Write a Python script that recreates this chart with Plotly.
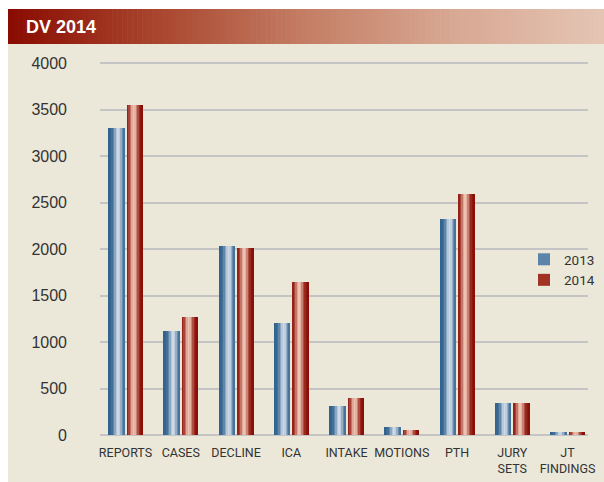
import math
import plotly.graph_objects as go

# ---- data ----
categories = ["REPORTS", "CASES", "DECLINE", "ICA", "INTAKE", "MOTIONS", "PTH", "JURY<br>SETS", "JT<br>FINDINGS"]
values_2013 = [3300, 1120, 2030, 1200, 310, 85, 2320, 345, 35]
values_2014 = [3550, 1270, 2010, 1650, 400, 55, 2590, 345, 35]
series_names = ["2013", "2014"]
y_ticks = [0, 500, 1000, 1500, 2000, 2500, 3000, 3500, 4000]
title_text = "DV 2014"

# ---- geometry (pixels) ----
W, H = 604, 482
PL, PR, PT, PB = 100, 588, 60, 435          # plot area in px
px_per_cat = 55.25
x0_range = -(125.5 - PL) / px_per_cat
x1_range = x0_range + (PR - PL) / px_per_cat
y_top = 4000 * (PB - PT) / (PB - 63)

def hexrgb(h):
    h = h.lstrip("#")
    return tuple(int(h[i:i + 2], 16) for i in (0, 2, 4))

def mix(a, b, t):
    a, b = hexrgb(a), hexrgb(b)
    return "rgb(%d,%d,%d)" % tuple(round(a[i] + (b[i] - a[i]) * t) for i in range(3))

def px_x(p):
    return (p - PL) / (PR - PL)

def px_y(p):
    return (PB - p) / (PB - PT)

fig = go.Figure()

bar_w = 16.5 / px_per_cat
gap = 1.0 / px_per_cat
n_stripes = 11
styles = [
    dict(vals=values_2013, dark="#30618D", light="#CDD9E6", peak=0.6, start=-gap - bar_w, legend="#5A84A9"),
    dict(vals=values_2014, dark="#890C03", light="#EDC2B1", peak=0.42, start=gap, legend="#A23324"),
]
for name, st in zip(series_names, styles):
    sw = bar_w / n_stripes
    for i in range(n_stripes):
        t = (i + 0.5) / n_stripes
        f = math.exp(-((t - st["peak"]) / 0.26) ** 2)
        fig.add_trace(go.Bar(
            x=categories, y=st["vals"], name=name,
            width=sw * 1.4 if i < n_stripes - 1 else sw,
            offset=st["start"] + i * sw,
            marker=dict(color=mix(st["dark"], st["light"], f), line=dict(width=0)),
            showlegend=False, hoverinfo="skip",
        ))
    fig.add_trace(go.Bar(x=[None], y=[None], name=name,
                         marker=dict(color=st["legend"], line=dict(width=0)),
                         showlegend=True))

shapes = []
# white strips outside the panel
shapes.append(dict(type="rect", xref="paper", yref="paper", x0=px_x(0), x1=px_x(W),
                   y0=px_y(0), y1=px_y(9), fillcolor="white", line=dict(width=0), layer="below"))
shapes.append(dict(type="rect", xref="paper", yref="paper", x0=px_x(0), x1=px_x(8),
                   y0=px_y(0), y1=px_y(H), fillcolor="white", line=dict(width=0), layer="below"))
# header gradient
anchors = [(0.0, "#8A0C02"), (0.25, "#A9462F"), (0.5, "#C47E65"), (0.75, "#D8A893"), (1.0, "#E4C4B3")]
def grad(t):
    for (a, ca), (b, cb) in zip(anchors[:-1], anchors[1:]):
        if t <= b:
            return mix(ca, cb, (t - a) / (b - a))
    return anchors[-1][1]
n_h = 120
hx0, hx1 = 8, W
for i in range(n_h):
    xa = hx0 + (hx1 - hx0) * i / n_h
    xb = hx0 + (hx1 - hx0) * (i + 1) / n_h + 0.6
    shapes.append(dict(type="rect", xref="paper", yref="paper", x0=px_x(xa), x1=px_x(xb),
                       y0=px_y(44), y1=px_y(9), fillcolor=grad(i / (n_h - 1)),
                       line=dict(width=0), layer="below"))

fig.update_layout(
    width=W, height=H,
    margin=dict(l=PL, r=W - PR, t=PT, b=H - PB, pad=0, autoexpand=False),
    paper_bgcolor="#EBE8DA", plot_bgcolor="rgba(0,0,0,0)",
    barmode="overlay", bargap=0,
    font=dict(family="Roboto", color="#333333"),
    shapes=shapes,
    annotations=[dict(text="<b>%s</b>" % title_text, xref="paper", yref="paper",
                      x=px_x(24), y=px_y(26.5), xanchor="left", yanchor="middle",
                      showarrow=False, font=dict(family="Liberation Sans", size=18, color="white"))],
    xaxis=dict(range=[x0_range, x1_range], showgrid=False, zeroline=False, showline=False,
               ticks="", tickangle=0, automargin=False,
               tickfont=dict(family="Roboto", size=12.5, color="#333333"), ticklabelstandoff=8,
               type="category"),
    yaxis=dict(range=[0, y_top], tickvals=y_ticks, showgrid=True, gridcolor="#C3C4C3",
               gridwidth=2, zeroline=True, zerolinecolor="#C3C4C3", zerolinewidth=2,
               showline=False, ticks="", ticklabelstandoff=32, automargin=False,
               tickfont=dict(family="Liberation Sans", size=16, color="#333333")),
    legend=dict(x=px_x(524), y=px_y(270), xanchor="left", yanchor="middle",
                bgcolor="rgba(0,0,0,0)", font=dict(family="Roboto", size=13.5, color="#333333"),
                itemclick=False, tracegroupgap=2),
)

fig.write_html(
    "out.html",
    config={"displayModeBar": False},
    post_script="document.body.style.margin='0';document.documentElement.style.overflow='hidden';",
)
